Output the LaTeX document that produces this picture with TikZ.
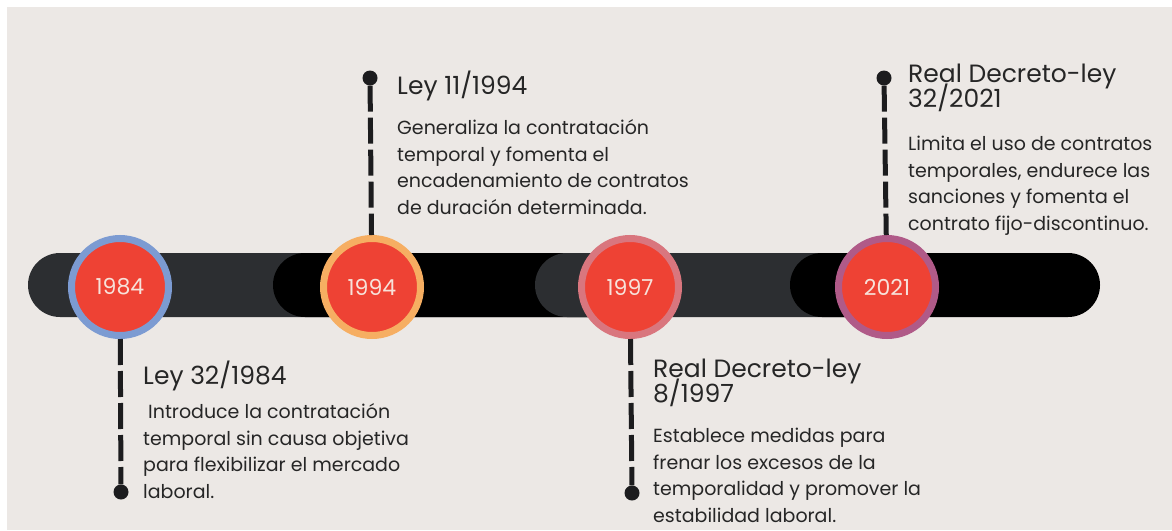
\documentclass[tikz,border=0pt]{standalone}
\usepackage{fontspec}
\setmainfont{Poppins}
\definecolor{paper}{HTML}{ECE8E5}
\definecolor{bargray}{HTML}{2C2E31}
\definecolor{ballred}{HTML}{EE4234}
\definecolor{yeartext}{HTML}{F7E2DA}
\definecolor{ringblue}{HTML}{7C9BD2}
\definecolor{ringorange}{HTML}{F6AE62}
\definecolor{ringpink}{HTML}{D9767E}
\definecolor{ringplum}{HTML}{B05A88}
\definecolor{pinblack}{HTML}{1C1C1E}
\definecolor{ink}{HTML}{262626}
\newcommand\titlefont{\fontsize{25}{24.5}\selectfont\lineskiplimit-50pt\relax}
\newcommand\bodyfont{\fontsize{19}{26.4}\selectfont\lineskiplimit-50pt\relax}
\begin{document}
\begin{tikzpicture}[x=1pt,y=-1pt,
  yearball/.style={circle,minimum size=97pt,inner sep=0pt,fill=ballred,line width=7pt,text=yeartext,font=\fontsize{22}{22}\selectfont},
  pin/.style={circle,minimum size=15pt,inner sep=0pt,fill=pinblack},
  stem/.style={line width=5pt,pinblack,dash pattern=on 26pt off 6pt},
  title/.style={anchor=base west,inner sep=0pt,align=left,text=ink,font=\titlefont},
  body/.style={anchor=base west,inner sep=0pt,align=left,text=ink,font=\bodyfont}]
% page
\fill[white](0,0)rectangle(1172,530);
\fill[paper](7,7)rectangle(1172,530);
% bar
\fill[bargray][rounded corners=32pt](28,253)rectangle(620,317);
\fill[black][rounded corners=32pt](273,253)rectangle(700,317);
\fill[bargray][rounded corners=32pt](535,253)rectangle(900,317);
\fill[black][rounded corners=32pt](790,253)rectangle(1100,317);
% years
\node (y84) at (120,287) [yearball,draw=ringblue]{1984};
\node (y94) at (372,287) [yearball,draw=ringorange]{1994};
\node (y97) at (630,287) [yearball,draw=ringpink]{1997};
\node (y21) at (887,287) [yearball,draw=ringplum]{2021};
% pins
\node (p84) at (121,492) [pin]{};
\node (p94) at (370,78) [pin]{};
\node (p97) at (632,493) [pin]{};
\node (p21) at (884,78) [pin]{};
\draw [stem](y84)--(p84);
\draw [stem](p94)--(y94);
\draw [stem](y97)--(p97);
\draw [stem](p21)--(y21);
% texts (base = last line)
\node (t84) at (143,384) [title]{Ley 32/1984};
\node (b84) at (143,498) [body]{\hspace{5pt}Introduce la contratación\\temporal sin causa objetiva\\para flexibilizar el mercado\\laboral.};
\node (t94) at (397,94) [title]{Ley 11/1994};
\node (b94) at (397,214) [body]{Generaliza la contratación\\temporal y fomenta el\\encadenamiento de contratos\\de duración determinada.};
\node (t97) at (653,402) [title]{Real Decreto-ley\\8/1997};
\node (b97) at (653,522) [body]{Establece medidas para\\frenar los excesos de la\\temporalidad y promover la\\estabilidad laboral.};
\node (t21) at (908,107) [title]{Real Decreto-ley\\32/2021};
\node (b21) at (908,230) [body]{Limita el uso de contratos\\temporales, endurece las\\sanciones y fomenta el\\contrato fijo-discontinuo.};
\end{tikzpicture}
\end{document}
